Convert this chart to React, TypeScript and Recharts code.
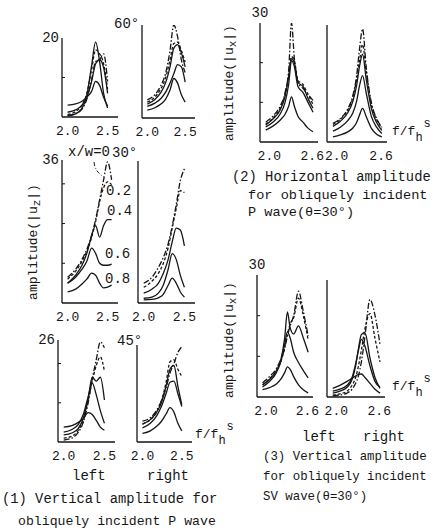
import React from "react";
import { LineChart, Line, XAxis, YAxis } from "recharts";

const FONT = '"Liberation Mono", "DejaVu Sans Mono", monospace';
const INK = "#161616";

// frequency grids (f / f_h^s)
const freqLeft = [2.0, 2.1, 2.18, 2.24, 2.3, 2.35, 2.4, 2.45, 2.5, 2.55];
const freqRight = [1.95, 2.05, 2.15, 2.22, 2.27, 2.31, 2.35, 2.4, 2.47, 2.54, 2.61];
const ticksLeft = [2.0, 2.5];
const ticksRight = [2.0, 2.6];

// every panel: five curves, x/w = 0, 0.2, 0.4, 0.6, 0.8
// (1) vertical amplitude, P wave, 60 deg
const p60Left = [
  [0.4, 0.9, 2.0, 4.5, 9.5, 14.0, 14.5, 16.0, 9.0, null],
  [0.6, 1.4, 3.0, 6.0, 12.0, 17.0, 16.0, 13.5, 7.0, null],
  [0.3, 0.8, 2.2, 5.5, 13.0, 19.0, 14.0, 6.0, 2.3, null],
  [1.2, 1.8, 3.0, 5.0, 9.0, 13.5, 14.5, 12.5, 6.0, null],
  [3.0, 3.3, 4.0, 5.0, 6.5, 9.0, 8.0, 5.0, 2.8, null],
];
const p60Right = [
  [3.9, 5.0, 7.0, 9.5, 14.5, 20.0, 17.5, 12.5, 9.8, null],
  [3.4, 4.5, 6.3, 8.5, 12.5, 16.0, 16.3, 14.5, 12.0, null],
  [3.0, 4.0, 5.5, 7.5, 11.0, 15.0, 15.8, 14.0, 11.0, null],
  [2.5, 3.2, 4.2, 5.5, 7.5, 9.5, 11.5, 11.0, 7.7, null],
  [1.7, 2.2, 3.0, 4.0, 6.0, 8.5, 7.5, 5.0, 3.4, null],
];
// 30 deg
const p30Left = [
  [6.5, 8.5, 11.0, 13.5, 17.0, 21.0, 26.0, 31.0, 35.5, 31.0],
  [6.0, 8.0, 10.5, 13.0, 16.5, 20.5, 25.5, 29.0, 30.5, 29.8],
  [5.0, 7.0, 9.5, 12.5, 17.0, 19.5, 16.6, 19.5, 21.0, 21.0],
  [5.0, 6.5, 8.5, 10.5, 13.8, 12.5, 10.0, 9.5, 9.5, 9.8],
  [2.8, 3.5, 4.8, 6.0, 7.5, 7.0, 5.0, 3.8, 4.0, 4.5],
];
const p30Right = [
  [5.0, 6.5, 9.0, 11.5, 15.0, 19.5, 25.0, 31.0, 34.0, null],
  [4.0, 5.5, 7.5, 10.0, 14.0, 19.0, 24.0, 28.5, 28.0, null],
  [2.5, 3.5, 5.0, 7.5, 11.0, 15.5, 19.0, 18.5, 14.5, null],
  [1.2, 1.5, 2.5, 4.5, 8.5, 12.5, 11.0, 7.0, 4.0, null],
  [0.8, 0.9, 1.3, 2.2, 4.5, 6.3, 5.0, 2.8, 1.5, null],
];
// 45 deg
const p45Left = [
  [0.5, 1.0, 2.5, 5.0, 10.0, 16.0, 21.0, 25.5, 24.0, null],
  [1.0, 1.5, 3.0, 5.5, 10.5, 15.5, 19.5, 21.7, 18.0, null],
  [1.8, 2.3, 3.5, 6.0, 11.0, 16.5, 15.5, 16.5, 10.7, null],
  [2.5, 3.2, 4.5, 7.0, 11.5, 15.0, 12.0, 8.0, 4.8, null],
  [3.8, 4.2, 5.0, 6.0, 7.5, 7.0, 5.5, 3.8, 3.0, null],
];
const p45Right = [
  [5.6, 6.5, 8.5, 11.0, 14.5, 18.5, 21.0, 24.0, 25.5, null],
  [4.8, 6.0, 8.0, 11.0, 16.0, 21.5, 22.0, 19.5, 17.6, null],
  [4.8, 6.0, 8.0, 10.5, 15.0, 19.5, 20.5, 15.0, 10.0, null],
  [3.8, 5.0, 7.0, 9.5, 13.0, 16.0, 16.3, 13.0, 9.5, null],
  [2.3, 3.0, 4.2, 5.5, 7.5, 9.2, 8.0, 5.0, 3.0, null],
];
// (2) horizontal amplitude, P wave, 30 deg
const horLeft = [
  [5.0, 6.5, 9.0, 12.5, 18.0, 30.0, 21.0, 15.0, 13.5, 12.0, 10.5],
  [4.5, 6.0, 8.5, 12.0, 17.0, 21.5, 20.5, 15.5, 14.5, 12.0, 9.5],
  [4.3, 5.8, 8.0, 11.5, 16.5, 21.0, 20.0, 15.0, 14.0, 11.0, 8.5],
  [3.8, 5.0, 7.0, 10.0, 14.5, 20.5, 19.0, 14.0, 12.5, 10.0, 7.5],
  [3.0, 4.0, 5.5, 7.0, 9.0, 11.4, 9.0, 6.5, 5.0, 3.5, 2.6],
];
const horRight = [
  [4.8, 6.0, 8.5, 12.0, 17.0, 24.0, 29.0, 19.0, 10.0, 6.0, 3.8],
  [4.5, 5.8, 8.2, 11.5, 16.0, 21.0, 25.0, 18.0, 9.5, 5.8, 3.5],
  [4.0, 5.3, 7.5, 10.5, 14.5, 19.5, 22.5, 16.0, 8.5, 5.0, 3.0],
  [2.8, 3.8, 5.5, 7.5, 10.5, 14.5, 17.0, 12.5, 6.5, 3.8, 2.2],
  [1.3, 1.8, 2.6, 3.6, 5.0, 7.0, 8.6, 6.5, 3.5, 2.0, 1.3],
];
// (3) vertical amplitude, SV wave, 30 deg
const svLeft = [
  [3.5, 5.0, 7.0, 9.5, 12.0, 15.0, 17.5, 20.0, 26.0, 21.0, 15.0],
  [3.0, 4.5, 6.5, 9.0, 12.0, 15.5, 18.0, 19.5, 24.3, 20.0, 14.0],
  [3.0, 4.3, 6.5, 9.5, 14.5, 20.9, 17.0, 15.5, 17.5, 14.5, 11.0],
  [2.5, 3.8, 6.0, 9.0, 13.0, 16.0, 14.5, 11.0, 8.5, 6.5, 4.7],
  [1.8, 2.3, 3.2, 4.5, 6.0, 7.4, 6.8, 5.0, 3.0, 1.8, 1.0],
];
const svRight = [
  [0.3, 0.5, 1.0, 2.0, 3.5, 5.5, 9.0, 15.5, 25.0, 21.0, 13.5],
  [0.5, 0.8, 1.5, 3.0, 5.0, 8.0, 12.0, 17.5, 21.4, 15.0, 9.0],
  [1.0, 1.5, 2.5, 4.5, 8.0, 12.5, 16.0, 16.5, 10.0, 5.0, 2.2],
  [1.5, 2.0, 3.0, 5.0, 8.5, 12.0, 14.8, 13.0, 8.0, 4.0, 2.5],
  [2.2, 3.0, 4.0, 4.8, 5.4, 5.8, 5.9, 5.0, 3.5, 2.0, 1.0],
];

const dashes = ["6 2 1.5 2", "3 2", undefined, undefined, undefined];

const toRows = (freq: number[], series: (number | null)[][]) =>
  freq.map((f, i) => {
    const row: any = { f };
    series.forEach((s, k) => (row["s" + k] = s[i]));
    return row;
  });

type PanelProps = {
  axisX: number;
  axisTop: number;
  axisBottom: number;
  axisRight: number;
  freq: number[];
  series: (number | null)[][];
  xDomain: [number, number];
  xTicks: number[];
  yMax: number;
  yTicks: number[];
  topLabel: "side" | "above" | "none";
};

function Panel(p: PanelProps) {
  const YW = 28, MT = 24, XH = 22, MR = 6;
  const w = p.axisRight - p.axisX + YW + MR;
  const h = p.axisBottom - p.axisTop + MT + XH;

  const renderYTick = (t: any) => {
    const v = t.payload.value;
    if (v === p.yMax) {
      if (p.topLabel === "side")
        return (
          <text x={t.x - 3} y={t.y} dy="0.3em" textAnchor="end" fontSize={14} fontFamily={FONT} fill={INK}>
            {v}
          </text>
        );
      if (p.topLabel === "above")
        return (
          <text x={t.x} y={t.y - 6} textAnchor="middle" fontSize={14} fontFamily={FONT} fill={INK}>
            {v}
          </text>
        );
      return <g />;
    }
    return <line x1={t.x} x2={t.x + 3} y1={t.y} y2={t.y} stroke={INK} strokeWidth={1} />;
  };

  return (
    <div style={{ position: "absolute", left: p.axisX - YW, top: p.axisTop - MT }}>
      <LineChart width={w} height={h} data={toRows(p.freq, p.series)} margin={{ top: MT, right: MR, bottom: 0, left: 0 }}>
        <XAxis
          type="number"
          dataKey="f"
          domain={p.xDomain}
          ticks={p.xTicks}
          allowDataOverflow
          height={XH}
          tickLine={false}
          tickMargin={3}
          stroke={INK}
          strokeWidth={1.3}
          tick={{ fill: INK, fontSize: 13, fontFamily: FONT }}
          tickFormatter={(v: number) => v.toFixed(1)}
        />
        <YAxis
          type="number"
          domain={[0, p.yMax]}
          ticks={[...p.yTicks, p.yMax]}
          allowDataOverflow
          width={YW}
          tickLine={false}
          tickSize={0}
          tickMargin={0}
          stroke={INK}
          strokeWidth={1.3}
          tick={renderYTick}
        />
        {p.series.map((_, k) => (
          <Line
            key={k}
            dataKey={"s" + k}
            type="monotone"
            stroke={INK}
            strokeWidth={1.3}
            strokeDasharray={dashes[k]}
            dot={false}
            isAnimationActive={false}
          />
        ))}
      </LineChart>
    </div>
  );
}

function Txt({ x, y, size = 14, children }: { x: number; y: number; size?: number; children: React.ReactNode }) {
  return (
    <div style={{ position: "absolute", left: x, top: y, fontSize: size, lineHeight: 1, whiteSpace: "nowrap", color: INK }}>
      {children}
    </div>
  );
}

function VText({ cx, cy, children }: { cx: number; cy: number; children: React.ReactNode }) {
  return (
    <div
      style={{
        position: "absolute",
        left: cx,
        top: cy,
        fontSize: 13,
        lineHeight: 1,
        whiteSpace: "nowrap",
        color: INK,
        transform: "translate(-50%, -50%) rotate(-90deg)",
      }}
    >
      {children}
    </div>
  );
}

function FreqLabel({ x, y }: { x: number; y: number }) {
  return (
    <Txt x={x} y={y} size={13}>
      f/f
      <span style={{ position: "relative", top: 6, fontSize: 12 }}>h</span>
      <span style={{ position: "relative", top: -8, fontSize: 12, marginLeft: 1 }}>s</span>
    </Txt>
  );
}

const leftDomain: [number, number] = [1.93, 2.63];
const rightDomain: [number, number] = [1.87, 2.68];

export default function App() {
  return (
    <div style={{ position: "absolute", left: 0, top: 0, width: 434, height: 531, background: "#fff", fontFamily: FONT, overflow: "hidden" }}>
      <Panel axisX={62} axisTop={38} axisBottom={117} axisRight={118} freq={freqLeft} series={p60Left} xDomain={leftDomain} xTicks={ticksLeft} yMax={20} yTicks={[10]} topLabel="side" />
      <Panel axisX={142} axisTop={25} axisBottom={118} axisRight={195} freq={freqLeft} series={p60Right} xDomain={leftDomain} xTicks={ticksLeft} yMax={20} yTicks={[]} topLabel="none" />
      <Panel axisX={62} axisTop={160} axisBottom={303} axisRight={118} freq={freqLeft} series={p30Left} xDomain={leftDomain} xTicks={ticksLeft} yMax={36} yTicks={[10, 20, 30]} topLabel="side" />
      <Panel axisX={138} axisTop={161} axisBottom={303} axisRight={195} freq={freqLeft} series={p30Right} xDomain={leftDomain} xTicks={ticksLeft} yMax={36} yTicks={[]} topLabel="none" />
      <Panel axisX={58} axisTop={340} axisBottom={442} axisRight={115} freq={freqLeft} series={p45Left} xDomain={leftDomain} xTicks={ticksLeft} yMax={26} yTicks={[10, 20]} topLabel="side" />
      <Panel axisX={137} axisTop={345} axisBottom={442} axisRight={192} freq={freqLeft} series={p45Right} xDomain={leftDomain} xTicks={ticksLeft} yMax={26} yTicks={[]} topLabel="none" />
      <Panel axisX={260} axisTop={23} axisBottom={142} axisRight={318} freq={freqRight} series={horLeft} xDomain={rightDomain} xTicks={ticksRight} yMax={30} yTicks={[10, 20]} topLabel="above" />
      <Panel axisX={327} axisTop={25} axisBottom={142} axisRight={387} freq={freqRight} series={horRight} xDomain={rightDomain} xTicks={ticksRight} yMax={30} yTicks={[]} topLabel="none" />
      <Panel axisX={257} axisTop={275} axisBottom={397} axisRight={313} freq={freqRight} series={svLeft} xDomain={rightDomain} xTicks={ticksRight} yMax={30} yTicks={[10, 20]} topLabel="above" />
      <Panel axisX={327} axisTop={280} axisBottom={397} axisRight={385} freq={freqRight} series={svRight} xDomain={rightDomain} xTicks={ticksRight} yMax={30} yTicks={[]} topLabel="none" />

      <Txt x={114} y={17}>60°</Txt>
      <Txt x={112} y={146}>30°</Txt>
      <Txt x={117} y={334}>45°</Txt>
      <Txt x={68} y={145}>x/w=0</Txt>
      <Txt x={106} y={184}>0.2</Txt>
      <Txt x={107} y={204}>0.4</Txt>
      <Txt x={105} y={247}>0.6</Txt>
      <Txt x={105} y={272}>0.8</Txt>
      <svg style={{ position: "absolute", left: 0, top: 0 }} width={434} height={531}>
        <path d="M94 162 Q95 172 104 177" fill="none" stroke={INK} strokeWidth={1} strokeDasharray="4 2 1 2" />
      </svg>

      <VText cx={35} cy={242}>
        amplitude(|u<sub style={{ fontSize: 11 }}>z</sub>|)
      </VText>
      <VText cx={231} cy={83}>
        amplitude(|u<sub style={{ fontSize: 11 }}>x</sub>|)
      </VText>
      <VText cx={231} cy={340}>
        amplitude(|u<sub style={{ fontSize: 11 }}>x</sub>|)
      </VText>

      <FreqLabel x={195} y={428} />
      <FreqLabel x={392} y={125} />
      <FreqLabel x={392} y={380} />

      <Txt x={72} y={469}>left</Txt>
      <Txt x={147} y={469}>right</Txt>
      <Txt x={302} y={430}>left</Txt>
      <Txt x={363} y={430}>right</Txt>

      <Txt x={2} y={493} size={13.8}>(1) Vertical amplitude for</Txt>
      <Txt x={18} y={515} size={13.2}>obliquely incident P wave</Txt>
      <Txt x={232} y={171} size={13.8}>(2) Horizontal amplitude</Txt>
      <Txt x={248} y={189} size={13.6}>for obliquely incident</Txt>
      <Txt x={248} y={206} size={13.6}>P wave(θ=30°)</Txt>
      <Txt x={263} y={451} size={12.4}>(3) Vertical amplitude</Txt>
      <Txt x={263} y={471} size={12.4}>for obliquely incident</Txt>
      <Txt x={263} y={491} size={12.4}>SV wave(θ=30°)</Txt>
    </div>
  );
}
